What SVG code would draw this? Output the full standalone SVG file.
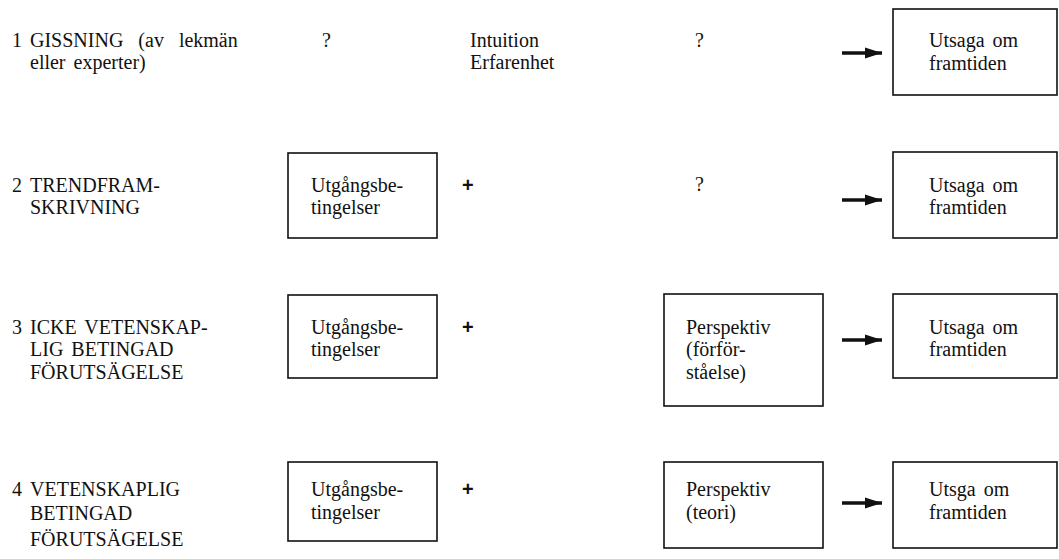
<svg xmlns="http://www.w3.org/2000/svg" width="1059" height="559" viewBox="0 0 1059 559">
<defs>
<style>
text{font-family:"Liberation Serif","Times New Roman",serif;font-size:20px;fill:#111;word-spacing:3px}
.plus{font-family:"Liberation Sans",Arial,sans-serif;font-weight:bold;font-size:20px}
.box{fill:none;stroke:#111;stroke-width:1.6}
.arr{stroke:#111;stroke-width:3.4;fill:none}
</style>
<marker id="ah" markerWidth="17" markerHeight="12" refX="17" refY="6" orient="auto" markerUnits="userSpaceOnUse">
<path d="M0,0.5 L17,6 L0,11.5 Z" fill="#111"/>
</marker>
</defs>
<rect width="1059" height="559" fill="#fff"/>

<g id="row1-label"><text x="12" y="47">1</text><text x="30" y="47" style="word-spacing:10px">GISSNING (av lekmän</text><text x="30" y="69">eller experter)</text></g>
<g id="row1-q1"><text x="322" y="47">?</text></g>
<g id="row1-intuition"><text x="470" y="47">Intuition</text><text x="470" y="69">Erfarenhet</text></g>
<g id="row1-q2"><text x="695" y="47">?</text></g>
<g id="row1-result"><rect class="box" x="893" y="9" width="164" height="86"/><text x="929" y="47">Utsaga om</text><text x="929" y="70">framtiden</text></g>

<g id="row2-label"><text x="12" y="192">2</text><text x="30" y="192">TRENDFRAM-</text><text x="30" y="214">SKRIVNING</text></g>
<g id="row2-start"><rect class="box" x="288" y="153" width="149" height="85"/><text x="311" y="192">Utgångsbe-</text><text x="311" y="214">tingelser</text></g>
<g id="row2-plus"><text class="plus" x="462" y="192">+</text></g>
<g id="row2-q"><text x="695" y="191">?</text></g>
<g id="row2-result"><rect class="box" x="893" y="152" width="164" height="86"/><text x="929" y="192">Utsaga om</text><text x="929" y="214">framtiden</text></g>

<g id="row3-label"><text x="12" y="334">3</text><text x="30" y="334">ICKE VETENSKAP-</text><text x="30" y="356">LIG BETINGAD</text><text x="30" y="379">FÖRUTSÄGELSE</text></g>
<g id="row3-start"><rect class="box" x="288" y="295" width="149" height="83"/><text x="311" y="334">Utgångsbe-</text><text x="311" y="356">tingelser</text></g>
<g id="row3-plus"><text class="plus" x="462" y="334">+</text></g>
<g id="row3-perspective"><rect class="box" x="664" y="294" width="159" height="112"/><text x="686" y="334">Perspektiv</text><text x="686" y="356">(förför-</text><text x="686" y="379">ståelse)</text></g>
<g id="row3-result"><rect class="box" x="893" y="294" width="164" height="84"/><text x="929" y="334">Utsaga om</text><text x="929" y="356">framtiden</text></g>

<g id="row4-label"><text x="12" y="496">4</text><text x="30" y="496">VETENSKAPLIG</text><text x="30" y="520">BETINGAD</text><text x="30" y="546">FÖRUTSÄGELSE</text></g>
<g id="row4-start"><rect class="box" x="288" y="462" width="149" height="79"/><text x="311" y="496">Utgångsbe-</text><text x="311" y="519">tingelser</text></g>
<g id="row4-plus"><text class="plus" x="462" y="496">+</text></g>
<g id="row4-perspective"><rect class="box" x="664" y="462" width="159" height="86"/><text x="686" y="496">Perspektiv</text><text x="686" y="519">(teori)</text></g>
<g id="row4-result"><rect class="box" x="893" y="462" width="164" height="86"/><text x="929" y="496">Utsga om</text><text x="929" y="519">framtiden</text></g>

<g id="connectors">
<line class="arr" x1="842" y1="53" x2="882" y2="53" marker-end="url(#ah)"/>
<line class="arr" x1="842" y1="200" x2="882" y2="200" marker-end="url(#ah)"/>
<line class="arr" x1="842" y1="340" x2="882" y2="340" marker-end="url(#ah)"/>
<line class="arr" x1="842" y1="503" x2="882" y2="503" marker-end="url(#ah)"/>
</g>
</svg>
